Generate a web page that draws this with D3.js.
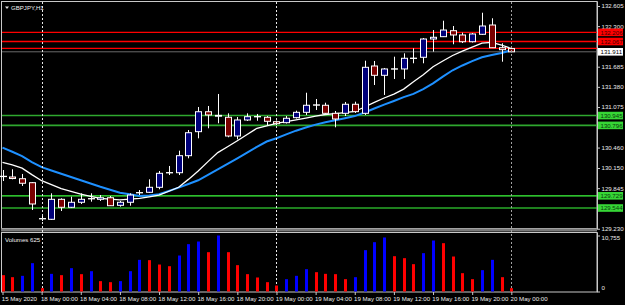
<!DOCTYPE html>
<html>
<head>
<meta charset="utf-8">
<script src="https://cdn.jsdelivr.net/npm/d3@7"></script>
<style>
  body { margin: 0; background: #000; }
  svg { display: block; }
  text { font-family: "Liberation Sans", Arial, sans-serif; }
</style>
</head>
<body>
<svg id="chart" width="625" height="305"></svg>
<script>
// GBPJPY H1, 15 May 20:00 .. 20 May 00:00 (weekend gap after 15 May 23:00)
const symbol = "GBPJPY,H1"
const times = [
    ...d3.timeHour.range(new Date(2020, 4, 15, 20), new Date(2020, 4, 16, 0)),
    ...d3.timeHour.range(new Date(2020, 4, 18, 0), new Date(2020, 4, 20, 1))
]

const opens = [130.025, 130.014, 129.988, 129.928, 129.380, 129.373, 129.676, 129.555, 129.631, 129.687,
    129.676, 129.700, 129.585, 129.631, 129.778, 129.782, 129.858, 130.081, 130.079, 130.337,
    130.701, 131.003, 130.935, 130.919, 130.635, 130.878, 130.930, 130.919, 130.852, 130.837,
    130.913, 130.994, 131.107, 131.101, 130.979, 130.979, 131.116, 130.979, 131.696, 131.555,
    131.653, 131.651, 131.815, 131.828, 132.105, 132.140, 132.231, 132.166, 132.064, 132.176,
    132.317, 131.973, 131.960]
const highs = [130.120, 130.131, 130.060, 129.938, 129.438, 129.767, 129.691, 129.716, 129.767, 129.767,
    129.741, 129.726, 129.651, 129.767, 129.817, 129.979, 130.105, 130.181, 130.413, 130.726,
    131.075, 131.090, 131.272, 130.979, 130.923, 130.979, 130.969, 130.938, 130.870, 130.938,
    131.019, 131.291, 131.196, 131.140, 131.014, 131.151, 131.155, 131.776, 131.772, 131.666,
    131.837, 131.888, 131.964, 132.120, 132.241, 132.382, 132.302, 132.201, 132.196, 132.503,
    132.419, 132.040, 131.966]
const lows = [129.953, 129.979, 129.878, 129.514, 129.347, 129.363, 129.499, 129.544, 129.605, 129.640,
    129.651, 129.575, 129.564, 129.579, 129.741, 129.772, 129.828, 130.044, 130.044, 130.297,
    130.600, 130.752, 130.828, 130.616, 130.585, 130.863, 130.867, 130.797, 130.802, 130.825,
    130.900, 130.954, 131.029, 130.969, 130.767, 130.938, 130.984, 130.954, 131.408, 131.257,
    131.499, 131.499, 131.737, 131.737, 131.913, 132.135, 132.025, 132.044, 132.052, 132.166,
    131.969, 131.761, 131.905]
const closes = [130.020, 129.991, 129.919, 129.605, 129.384, 129.676, 129.555, 129.631, 129.676, 129.684,
    129.700, 129.579, 129.631, 129.741, 129.775, 129.858, 130.070, 130.078, 130.337, 130.685,
    131.003, 130.954, 130.948, 130.635, 130.878, 130.928, 130.927, 130.858, 130.822, 130.904,
    130.994, 131.101, 131.104, 130.979, 130.893, 131.116, 131.004, 131.676, 131.555, 131.651,
    131.650, 131.813, 131.812, 132.105, 132.131, 132.241, 132.166, 132.064, 132.181, 132.302,
    131.973, 131.943, 131.911]

// moving averages (white = fast, blue = slow)
const maFast = [130.237, 130.199, 130.149, 130.050, 129.958, 129.897, 129.838, 129.796, 129.754, 129.722,
    129.691, 129.678, 129.666, 129.678, 129.690, 129.714, 129.740, 129.798, 129.858, 129.978,
    130.106, 130.247, 130.384, 130.473, 130.564, 130.658, 130.752, 130.790, 130.828, 130.852,
    130.878, 130.907, 130.938, 130.961, 130.973, 130.991, 131.007, 131.075, 131.144, 131.211,
    131.270, 131.346, 131.458, 131.564, 131.684, 131.772, 131.855, 131.920, 131.982, 132.041,
    132.055, 132.014, 131.961]
const maSlow = [130.458, 130.396, 130.329, 130.241, 130.163, 130.113, 130.064, 130.014, 129.964, 129.916,
    129.866, 129.822, 129.776, 129.752, 129.726, 129.735, 129.754, 129.802, 129.853, 129.908,
    129.964, 130.046, 130.128, 130.213, 130.297, 130.384, 130.472, 130.552, 130.602, 130.660,
    130.716, 130.763, 130.808, 130.844, 130.873, 130.905, 130.937, 130.991, 131.052, 131.110,
    131.166, 131.225, 131.273, 131.347, 131.432, 131.535, 131.631, 131.704, 131.770, 131.829,
    131.863, 131.893, 131.934]

const volumes = [3140, 2750, 3010, 5440, 640, 3390, 3140, 4480, 3330, 3900,
    1990, 1790, 1990, 3900, 6080, 6020, 5180, 4860, 6910, 9090,
    9600, 7550, 10755, 7550, 5060, 3330, 2690, 1790, 1150, 2370,
    3010, 4290, 3710, 3390, 3330, 2370, 2750, 7940, 9470, 10370,
    6780, 6400, 5250, 7360, 9790, 9280, 6720, 3520, 2370, 4100,
    6080, 2750, 640]

const priceTicks = [132.605, 132.300, 131.685, 131.380, 131.075, 130.460, 130.150, 129.845, 129.230]
const volumeTicks = [0, 10755]
const resistance = [132.206, 132.067, 131.964]
const resistanceLabels = [132.206, 132.067]
const support = [130.945, 130.796, 129.729, 129.544]
const bid = 131.911

const svg = d3.select("#chart")
const W = 625, H = 305
const left = 2, right = 597, mainTop = 2, mainBottom = 229, volTop = 232.5, volBottom = 292
const fs = "6.1px"

svg.append("rect").attr("width", W).attr("height", H).attr("fill", "#000")

const idx = d3.range(times.length)
const x = d3.scalePoint().domain(idx).range([2.5, 2.5 + 52 * 9.785])
const y = d3.scaleLinear().domain([129.211, 132.6656]).range([230, 2])
const yv = d3.scaleLinear().domain([0, 10755]).range([volBottom - 0.5, 235.5])

// frames
svg.append("rect").attr("x", left - 0.5).attr("y", mainTop - 0.5)
    .attr("width", right - left + 0.5).attr("height", mainBottom - mainTop)
    .attr("fill", "none").attr("stroke", "#c8c8c8")
svg.append("rect").attr("x", left - 1).attr("y", mainBottom - 0.5)
    .attr("width", right - left + 1).attr("height", 3).attr("fill", "#7a7a7a")
svg.append("rect").attr("x", left - 0.5).attr("y", volTop)
    .attr("width", right - left + 0.5).attr("height", volBottom - volTop)
    .attr("fill", "none").attr("stroke", "#c8c8c8")

const main = svg.append("g")

// support / resistance lines
main.selectAll(".res").data(resistance).enter().append("line")
    .attr("x1", left).attr("x2", right)
    .attr("y1", d => y(d)).attr("y2", d => y(d))
    .attr("stroke", "#ff0000").attr("stroke-width", 1.3)
main.selectAll(".sup").data(support).enter().append("line")
    .attr("x1", left).attr("x2", right)
    .attr("y1", d => y(d)).attr("y2", d => y(d))
    .attr("stroke", (d, i) => i < 2 ? "#2fa82f" : "#3cff3c")
    .attr("stroke-width", (d, i) => i < 2 ? 1.6 : 1.2)
main.append("line")
    .attr("x1", left).attr("x2", right)
    .attr("y1", y(bid)).attr("y2", y(bid))
    .attr("stroke", "#6a6a6a").attr("stroke-width", 1)

// day separators
const separators = idx.filter(i => times[i].getHours() === 0)
svg.selectAll(".sep").data(separators).enter().append("line")
    .attr("x1", i => Math.round(x(i)) + 0.5).attr("x2", i => Math.round(x(i)) + 0.5)
    .attr("y1", mainTop).attr("y2", volBottom)
    .attr("stroke", (d, k) => k === separators.length - 1 ? "#a0a0a0" : "#e8e8e8")
    .attr("stroke-dasharray", "2,2")

// moving averages
const line = d3.line().x((d, i) => x(i)).y(d => y(d))
main.append("path").datum(maSlow).attr("d", line)
    .attr("fill", "none").attr("stroke", "#1e90ff").attr("stroke-width", 2)
main.append("path").datum(maFast).attr("d", line)
    .attr("fill", "none").attr("stroke", "#ffffff").attr("stroke-width", 1.3)

// candles
const candles = main.selectAll(".candle").data(idx).enter().append("g")
candles.append("line")
    .attr("x1", i => Math.round(x(i)) + 0.5).attr("x2", i => Math.round(x(i)) + 0.5)
    .attr("y1", i => y(highs[i])).attr("y2", i => y(lows[i]))
    .attr("stroke", "#fff").attr("stroke-width", 1)
candles.append("rect")
    .attr("x", i => Math.round(x(i)) - 2.5)
    .attr("width", 6)
    .attr("y", i => y(Math.max(opens[i], closes[i])))
    .attr("height", i => Math.max(0.3, Math.abs(y(opens[i]) - y(closes[i]))))
    .attr("fill", i => Math.abs(opens[i] - closes[i]) < 0.004 ? "#fff" : closes[i] > opens[i] ? "#00007a" : "#7a0000")
    .attr("stroke", "#fff").attr("stroke-width", 1)

// volumes
svg.selectAll(".vol").data(idx).enter().append("rect")
    .attr("x", i => Math.round(x(i)) - 1)
    .attr("width", 3)
    .attr("y", i => yv(volumes[i]))
    .attr("height", i => yv(0) - yv(volumes[i]))
    .attr("fill", i => i > 0 && volumes[i] > volumes[i - 1] ? "#0000ff" : "#ff0000")

// price axis
const yAxis = svg.append("g").attr("transform", `translate(${right},0)`)
    .call(d3.axisRight(y).tickValues(priceTicks).tickFormat(d3.format(".3f")).tickSize(3).tickPadding(1.5))
yAxis.select(".domain").attr("stroke", "#c8c8c8").attr("d", `M0.5,${mainTop - 0.5}V${mainBottom}`)
yAxis.selectAll(".tick line").attr("stroke", "#c8c8c8")
yAxis.selectAll("text").attr("fill", "#ececec").style("font-size", fs)

const vAxis = svg.append("g").attr("transform", `translate(${right},0)`)
    .call(d3.axisRight(yv).tickValues(volumeTicks).tickSize(3).tickPadding(1.5))
vAxis.select(".domain").attr("stroke", "#c8c8c8").attr("d", `M0.5,${volTop}V${volBottom}`)
vAxis.selectAll(".tick line").attr("stroke", "#c8c8c8")
vAxis.selectAll("text").attr("fill", "#ececec").style("font-size", fs)
    .attr("dy", (d) => d === 0 ? "-0.3em" : "0.6em")

// time axis
const timeTicks = idx.filter(i => i === 0 || (times[i].getHours() % 4 === 0 && i >= 4))
const fmtFirst = d3.timeFormat("%-d %b %Y"), fmtHour = d3.timeFormat("%-d %b %H:%M")
const xAxis = svg.append("g").attr("transform", `translate(0,${volBottom})`)
    .call(d3.axisBottom(x).tickValues(timeTicks)
        .tickFormat(i => i === 0 ? fmtFirst(times[i]) : fmtHour(times[i]))
        .tickSize(3).tickPadding(1.5))
xAxis.select(".domain").remove()
xAxis.selectAll(".tick line").attr("stroke", "#c8c8c8")
xAxis.selectAll("text").attr("fill", "#ececec").style("font-size", fs)
    .attr("text-anchor", "start").attr("dx", "-0.2em")

// price tags on the right
const tag = (value, bg, fg) => {
    const g = svg.append("g").attr("transform", `translate(${right + 1},${y(value)})`)
    g.append("rect").attr("x", 0).attr("y", -3.8).attr("width", 25).attr("height", 7.6).attr("fill", bg)
    g.append("text").attr("x", 2.5).attr("y", 2.2).attr("fill", fg).style("font-size", fs)
        .text(d3.format(".3f")(value))
}
resistanceLabels.forEach(v => tag(v, "#ff0000", "#400000"))
support.forEach(v => tag(v, "#36d636", "#0a3a0a"))
tag(bid, "#ffffff", "#000000")

// titles
svg.append("path").attr("d", "M5,6.5 L9,6.5 L7,9 Z").attr("fill", "#e0e0e0")
svg.append("text").attr("x", 11).attr("y", 9.5).attr("fill", "#f0f0f0").style("font-size", fs).text(symbol)
svg.append("text").attr("x", 5).attr("y", 241.5).attr("fill", "#f0f0f0").style("font-size", fs).text("Volumes 625")
</script>
</body>
</html>
